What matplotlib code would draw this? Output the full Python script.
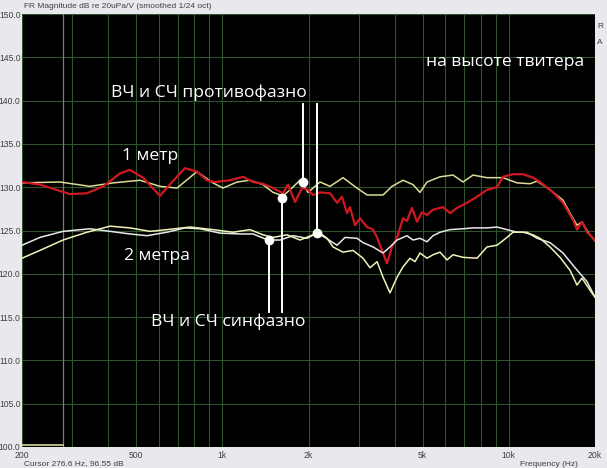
import matplotlib
matplotlib.use('Agg')
from matplotlib import pyplot as plt
from matplotlib.ticker import FixedLocator, NullFormatter

# 1 metre, red curve
red_1m_hz = [200, 231, 294, 337, 384, 440, 476, 529, 606, 668, 741, 816, 884, 943,
             1064, 1181, 1280, 1387, 1504, 1629, 1696, 1795, 1898, 1992, 2073, 2194,
             2377, 2516, 2618, 2725, 2791, 2906, 3026, 3201, 3360, 3470, 3641, 3758,
             3912, 4075, 4275, 4414, 4595, 4783, 4980, 5184, 5442, 5895, 6237, 6598,
             7150, 7749, 8397, 9099, 9550, 10350, 11216, 12154, 12855, 14273, 15468,
             16762, 17310, 18019, 18758, 20000]
red_1m_db = [130.6, 130.3, 129.2, 129.3, 130.1, 131.6, 132.0, 131.1, 129.0, 130.6,
             132.2, 131.8, 130.8, 130.6, 130.8, 131.2, 130.6, 130.4, 129.9, 129.3,
             130.3, 128.3, 129.9, 129.7, 129.1, 129.4, 129.3, 128.2, 128.9, 127.0,
             127.7, 125.6, 126.4, 125.4, 125.1, 124.2, 122.4, 121.2, 123.1, 124.2,
             126.4, 126.1, 127.6, 126.0, 127.1, 126.8, 127.4, 127.7, 127.0, 127.6,
             128.2, 128.9, 129.7, 130.0, 131.2, 131.5, 131.5, 131.1, 130.6, 129.4,
             128.2, 126.2, 125.1, 126.0, 124.8, 123.9]

# 1 metre, yellow curve
yel_1m_hz = [200, 271, 345, 416, 516, 606, 695, 816, 928, 1006, 1126, 1250, 1387,
             1504, 1629, 1724, 1868, 1992, 2194, 2377, 2640, 2953, 3201, 3641, 3912,
             4275, 4633, 4900, 5184, 5755, 6390, 6925, 7504, 8397, 9550, 10686,
             11864, 12551, 13932, 15468, 16362, 17310, 18019, 18908, 20000]
yel_1m_db = [130.5, 130.6, 130.1, 130.5, 130.8, 130.1, 129.9, 131.8, 130.5, 129.9,
             130.6, 130.8, 130.3, 129.4, 129.0, 129.7, 130.8, 129.4, 130.6, 130.1,
             131.1, 129.9, 129.1, 129.1, 130.1, 130.8, 130.3, 129.4, 130.6, 131.2,
             131.4, 130.6, 131.4, 131.1, 131.1, 130.5, 130.4, 130.7, 129.7, 128.5,
             127.0, 125.6, 126.0, 124.8, 123.8]

# 2 metres, white curve
wht_2m_hz = [200, 231, 278, 345, 406, 476, 546, 641, 741, 836, 982, 1153, 1280, 1444,
             1591, 1766, 1976, 2141, 2283, 2516, 2682, 2953, 3100, 3360, 3641, 3850,
             4075, 4414, 4633, 4900, 5184, 5442, 5755, 6237, 6925, 7504, 8397, 9099,
             9862, 10686, 11582, 12551, 13932, 15468, 17034, 18758, 20000]
wht_2m_db = [123.3, 124.2, 124.9, 125.2, 124.9, 124.6, 124.4, 124.8, 125.3, 125.2,
             124.7, 124.6, 124.6, 123.9, 123.9, 124.4, 124.1, 124.7, 124.2, 123.3,
             124.2, 124.1, 123.6, 123.1, 122.4, 123.1, 123.9, 124.4, 123.9, 124.1,
             123.7, 124.4, 124.8, 125.1, 125.2, 125.3, 125.3, 125.4, 125.1, 124.8,
             124.8, 124.1, 123.6, 122.4, 120.7, 119.1, 117.3]

# 2 metres, yellow curve
yel_2m_hz = [200, 231, 278, 337, 406, 476, 560, 641, 772, 928, 1090, 1250, 1387,
             1504, 1683, 1868, 2073, 2194, 2321, 2436, 2640, 2860, 3100, 3279, 3470,
             3641, 3850, 4075, 4275, 4522, 4707, 4900, 5184, 5442, 5755, 6088, 6390,
             6925, 7749, 8397, 9099, 9862, 10350, 11216, 12154, 12855, 13932, 15098,
             16362, 17310, 18019, 19210, 20000]
yel_2m_db = [121.8, 122.7, 123.9, 124.8, 125.5, 125.3, 124.9, 125.1, 125.4, 125.1,
             124.8, 125.1, 124.5, 124.2, 124.5, 123.9, 124.5, 124.7, 124.1, 123.1,
             122.5, 122.7, 121.8, 120.7, 121.4, 119.6, 117.8, 119.6, 120.8, 121.8,
             121.4, 122.4, 121.8, 122.2, 122.5, 121.6, 122.2, 121.9, 121.8, 123.1,
             123.3, 124.2, 124.8, 124.8, 124.5, 124.1, 123.1, 121.9, 120.4, 118.7,
             119.5, 118.1, 117.3]

# marked points (Hz, dB)
anti_pts = [(1910, 130.6), (2141, 124.7)]
sin_pts = [(1456, 123.9), (1610, 128.8)]
cursor_hz = 277

x_labeled = [200, 500, 1000, 2000, 5000, 10000, 20000]
x_labels = ['200', '500', '1k', '2k', '5k', '10k', '20k']
x_grid = [300, 400, 600, 700, 800, 900, 3000, 4000, 6000, 7000, 8000, 9000]
y_ticks = list(range(100, 151, 5))

fig = plt.figure(figsize=(6.07, 4.68), dpi=100, facecolor='#e9e9ed')
ax = fig.add_axes([22 / 607, 21 / 468, 573 / 607, 433 / 468])
ax.set_facecolor('black')

ax.set_xscale('log')
ax.set_xlim(200, 20000)
ax.set_ylim(100, 150)

ax.xaxis.set_major_locator(FixedLocator(x_labeled))
ax.xaxis.set_minor_locator(FixedLocator(x_grid))
ax.xaxis.set_minor_formatter(NullFormatter())
ax.set_xticks(x_labeled)
ax.set_xticklabels(x_labels)
ax.set_yticks(y_ticks)
ax.set_yticklabels(['%.1f' % v for v in y_ticks])
ax.tick_params(which='both', length=0, labelsize=6.2, colors='#404040')
ax.tick_params(axis='x', pad=3)
ax.tick_params(axis='y', pad=1)
for lab in ax.get_xticklabels() + ax.get_yticklabels():
    lab.set_family('Liberation Sans')
ax.grid(which='both', color='#2f522f', lw=0.8)
for s in ax.spines.values():
    s.set_visible(False)

# cursor
ax.axvline(cursor_hz, color='#7a7a7a', lw=0.9)
ax.plot([200, cursor_hz], [100.2, 100.2], color='#d8d890', lw=1.2)

ax.plot(yel_1m_hz, yel_1m_db, color='#dcdc96', lw=1.1)
ax.plot(red_1m_hz, red_1m_db, color='#d01820', lw=1.6)
ax.plot(wht_2m_hz, wht_2m_db, color='#e8e8e8', lw=1.1)
ax.plot(yel_2m_hz, yel_2m_db, color='#f2f2b8', lw=1.1)

# annotation lines and dots
for f, db in anti_pts:
    ax.plot([f, f], [139.6, db], color='white', lw=1.4)
    ax.plot(f, db, 'o', color='white', ms=6)
for f, db in sin_pts:
    ax.plot([f, f], [115.6, db], color='white', lw=1.4)
    ax.plot(f, db, 'o', color='white', ms=6)

tkw = dict(transform=ax.transAxes, color='white', family='Open Sans',
           fontsize=12.6, ha='center', va='center')
ax.text(0.326, 0.818, 'ВЧ и СЧ противофазно', **tkw)
ax.text(0.360, 0.289, 'ВЧ и СЧ синфазно', **tkw)
ax.text(0.223, 0.672, '1 метр', **tkw)
ax.text(0.236, 0.441, '2 метра', **tkw)
ax.text(0.843, 0.889, 'на высоте твитера', **tkw)

# header and footer texts
small = dict(fontsize=6.0, family='Liberation Sans', color='#404040')
fig.text(24 / 607, 1 - 7 / 468, 'FR Magnitude dB re 20uPa/V (smoothed 1/24 oct)',
         va='center', **small)
fig.text(24 / 607, 1 - 460 / 468, 'Cursor 276.6 Hz, 96.55 dB', va='top', **small)
fig.text(578 / 607, 1 - 460.5 / 468, 'Frequency (Hz)', va='top', ha='right', **small)
fig.text(600 / 607, 1 - 27 / 468, 'R', ha='center', va='center', **small)
fig.text(600 / 607, 1 - 43 / 468, 'A', ha='center', va='center', **small)

fig.savefig('out.png', dpi=100, facecolor=fig.get_facecolor())
